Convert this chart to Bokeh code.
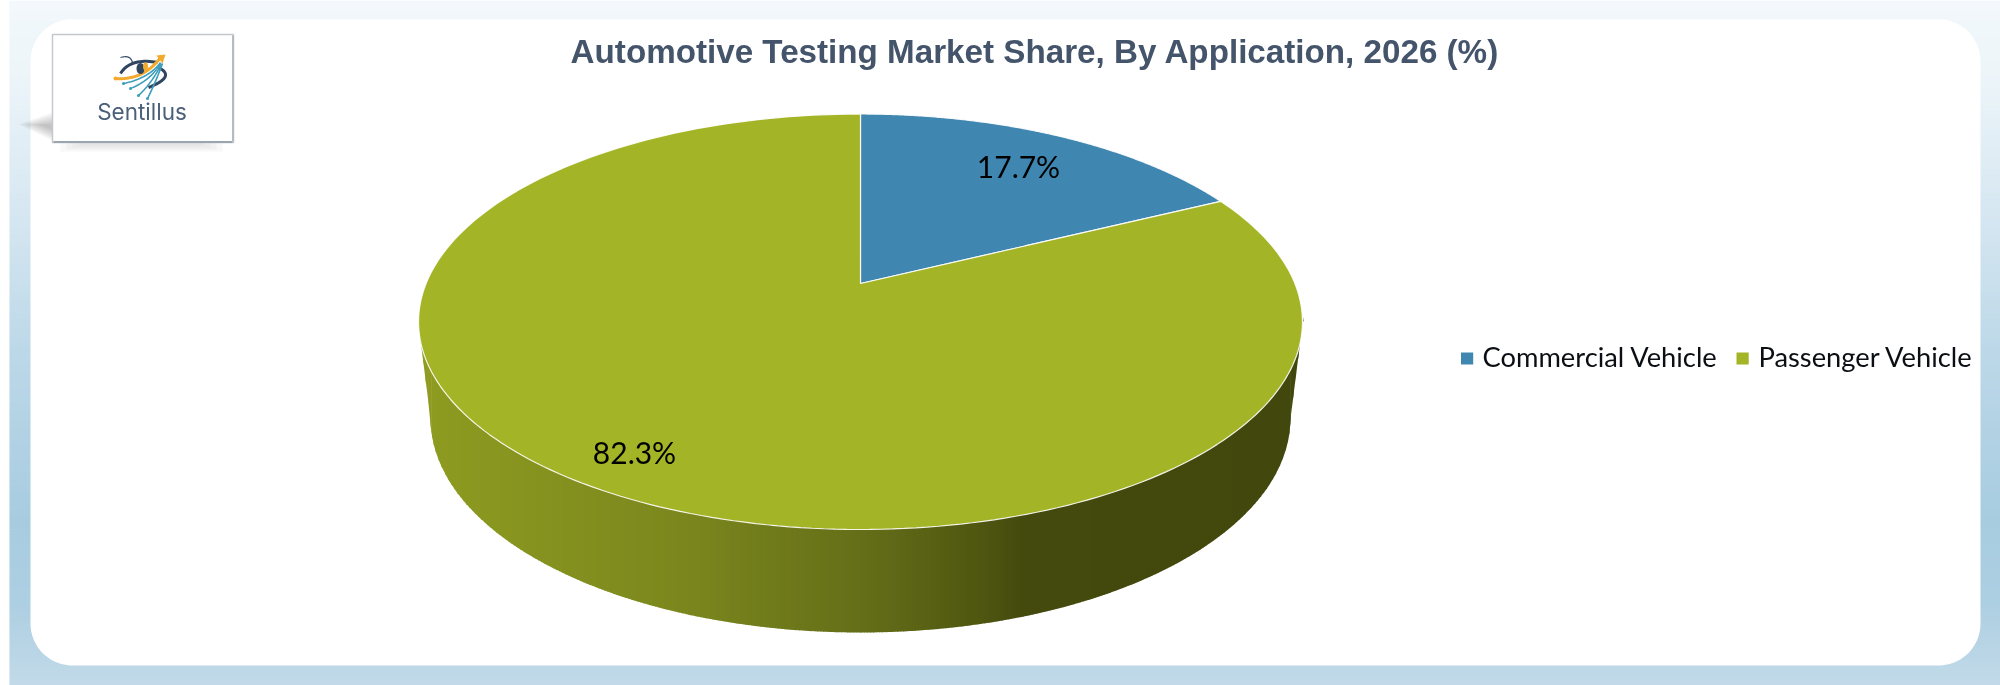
import numpy as np
from bokeh.plotting import figure
from bokeh.models import Range1d
from bokeh.core.properties import value
from bokeh.embed import file_html
from bokeh.resources import INLINE

TITLE = "Automotive Testing Market Share, By Application, 2026 (%)"
categories = ["Commercial Vehicle", "Passenger Vehicle"]
shares = [17.7, 82.3]
colors = ["#3F86B1", "#A3B426"]

W, H = 2000, 685
p = figure(width=W - 8, height=H, x_range=Range1d(8, W), y_range=Range1d(H, 0),
           output_backend="svg", toolbar_location=None, min_border=0,
           styles={"position": "fixed", "left": "8px", "top": "0px"})
p.xaxis.visible = False
p.yaxis.visible = False
p.grid.visible = False
p.outline_line_color = None
p.background_fill_color = "#ffffff"
p.border_fill_color = "#ffffff"


def hexrgb(c):
    return np.array([int(c[i:i + 2], 16) for i in (1, 3, 5)], float)


def ramp(pos, stops):
    xs = [s[0] for s in stops]
    cs = np.array([hexrgb(s[1]) for s in stops])
    out = np.stack([np.interp(pos, xs, cs[:, i]) for i in range(3)], axis=1)
    return ["#%02x%02x%02x" % tuple(int(round(v)) for v in row) for row in out]


# page background
ys = np.arange(0, H, 3)
bg_stops = [(0, "#F2F8FB"), (70, "#EDF5F9"), (200, "#D8E8F2"), (350, "#BCD8E8"),
            (520, "#A7CCE0"), (600, "#ADCFE2"), (685, "#C2DAE9")]
p.quad(left=9, right=W, top=ys, bottom=ys + 3.6, fill_color=ramp(ys, bg_stops), line_color=None)

# white rounded panel
L, R, T, B, r = 30, 1980, 18.7, 665, 42
a = np.linspace(0, np.pi / 2, 24)
px = np.r_[L + r - r * np.cos(a), R - r + r * np.sin(a), R - r + r * np.cos(a), L + r - r * np.sin(a)]
py = np.r_[T + r - r * np.sin(a), T + r - r * np.cos(a), B - r + r * np.sin(a), B - r + r * np.cos(a)]
p.patch(px, py, fill_color="#ffffff", line_color=None)

# logo shadow + box
for k in range(8):
    p.patch([18 + k * 3, 52, 52], [124, 112 + k * 1.8, 140 - k * 1.6], fill_color="#606060", fill_alpha=.06, line_color=None)
for k in range(4):
    p.quad(left=[60 + k * 6], right=[222 - k * 6], top=[142], bottom=[151 - k * 2], fill_color="#A0A0A0", fill_alpha=.07, line_color=None)
p.quad(left=[52], right=[233], top=[34], bottom=[142], fill_color="#ffffff", line_color="#C4C8CC", line_width=1.5)
p.line([53, 232], [141.5, 141.5], line_color="#9AA5B0", line_width=2)
p.line([232.5, 232.5], [35, 141], line_color="#B4BAC0", line_width=2)


def bez(a, b, c, n=20):
    t = np.linspace(0, 1, n)[:, None]
    a, b, c = map(np.array, (a, b, c))
    return ((1 - t) ** 2 * a + 2 * t * (1 - t) * b + t ** 2 * c).T


for pts, col, w in [
    (((120, 73), (130, 57), (157, 62)), "#2F4560", 3),
    (((158, 67), (176, 76), (148, 87)), "#2F4560", 3),
    (((120, 57), (130, 54), (132, 62)), "#33496A", 1.2),
    (((160, 62), (148, 78), (123, 83)), "#3C9DBB", 1.6),
    (((160, 63), (150, 80), (130, 88)), "#3C9DBB", 1.6),
    (((161, 63), (152, 82), (138, 95)), "#3C9DBB", 1.6),
    (((162, 63), (155, 82), (147, 98)), "#3C9DBB", 1.6),
    (((115, 78), (143, 80), (160, 57)), "#F2A92C", 3),
]:
    bx, by = bez(*pts)
    p.line(bx, by, line_color=col, line_width=w)
p.patch([156, 165, 162], [55, 54, 63], fill_color="#F2A92C", line_color=None)
p.ellipse([140], [68], 8, 11, fill_color="#2F4560", line_color=None)
p.ellipse([145], [66], 5, 8, fill_color="#F2A92C", line_color=None)
p.scatter([123, 130, 138, 147], [83, 88, 95, 98], size=3, fill_color="#3C9DBB", line_color=None)
p.scatter([115], [78], size=4, fill_color="#F2A92C", line_color=None)
p.text([141.5], [110.5], text=["Sentillus"], text_font=value("Inter"), text_font_size="22.5px",
       text_color="#4A5F78", text_align="center", text_baseline="middle")

# title
p.text([1034.5], [50.5], text=[TITLE], text_font=value("Liberation Sans"), text_font_style="bold",
       text_font_size="33.2px", text_color="#44546A", text_align="center", text_baseline="middle")

# pie geometry
CX, APEX_Y, A_, B_, K = 860, 283, 434.4, 200.7, 0.1841


def project(t):
    w = 1 + K * np.cos(t)
    return CX + A_ * np.sin(t) / w, APEX_Y - B_ * np.cos(t) / w


# wall: vertical strips with sloped feet following the silhouette
LOW_CY, LOW_RY, LOW_RX = 418, 214, 430
TOP_RX = 442.4
WALL_TOP = 321


def foot(x):
    d = np.abs(x - CX)
    curve = LOW_CY + LOW_RY * np.sqrt(np.clip(1 - (d / LOW_RX) ** 2, 0, 1))
    side = WALL_TOP + (TOP_RX - d) / (TOP_RX - LOW_RX) * (LOW_CY - WALL_TOP)
    return np.where(d < LOW_RX, curve, side)


d_edge = np.r_[np.linspace(TOP_RX, LOW_RX, 6), LOW_RX - np.array([.1, .3, .7, 1.5, 3, 5, 8, 11, 15])]
d_edge = np.r_[d_edge, np.arange(LOW_RX - 18, -0.1, -3)]
edges = np.r_[CX - d_edge, CX + d_edge[::-1][1:]] if d_edge[-1] == 0 else np.r_[CX - d_edge, CX, CX + d_edge[::-1]]
wall_stops = [(418, "#909D22"), (440, "#8D9A20"), (683, "#7B871D"), (865, "#646E18"),
              (986, "#4E5510"), (1022, "#444A0D"), (1302, "#42480D")]
x0, x1 = edges[:-1], edges[1:]
xov = np.minimum(x1 + .6, x1 + (x1 - x0))
mid = (x0 + x1) / 2
p.patches([[a_, c_, c_, a_] for a_, c_ in zip(x0, xov)],
          [[WALL_TOP, WALL_TOP, float(foot(c_)), float(foot(a_))] for a_, c_ in zip(x0, xov)],
          fill_color=ramp(mid, wall_stops), line_color=None)

# pie top
start = 0.0
for share, col in zip(shares, colors):
    end = start + share / 100 * 2 * np.pi
    t = np.linspace(start, end, 240)
    x, y = project(t)
    p.patch(np.r_[CX, x], np.r_[APEX_Y, y], fill_color=col, line_color="#ffffff", line_width=1.2, line_alpha=.9)
    start = end

# labels
p.text([1018, 634], [165.5, 451.5], text=[f"{v}%" for v in shares], text_font=value("Lato"), text_font_size="30px",
       text_color="#000000", text_align="center", text_baseline="middle")

# legend
p.quad(left=[1460.5, 1736], right=[1472.7, 1748.2], top=[352, 352], bottom=[364, 364], fill_color=colors, line_color=None)
p.text([1482, 1758], [355.5, 355.5], text=categories, text_font=value("Lato"), text_font_size="27.3px",
       text_color="#0B0F14", text_align="left", text_baseline="middle")

open("out.html", "w").write(file_html(p, INLINE))
